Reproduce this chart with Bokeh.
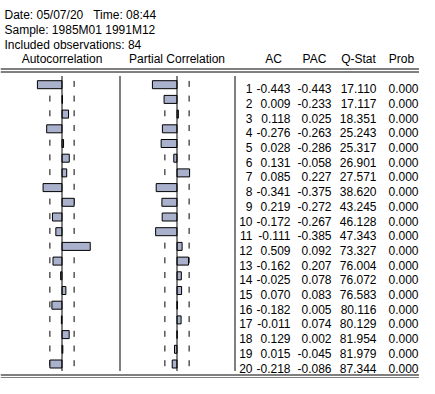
from bokeh.plotting import figure
from bokeh.models import Range1d, ColumnDataSource
from bokeh.core.properties import value
from bokeh.embed import file_html
from bokeh.resources import INLINE

# ---- data ----
lags = list(range(1, 21))
ac = [-0.443, 0.009, 0.118, -0.276, 0.028, 0.131, 0.085, -0.341, 0.219, -0.172,
      -0.111, 0.509, -0.162, -0.025, 0.070, -0.182, -0.011, 0.129, 0.015, -0.218]
pac = [-0.443, -0.233, 0.025, -0.263, -0.286, -0.058, 0.227, -0.375, -0.272, -0.267,
       -0.385, 0.092, 0.207, 0.078, 0.083, 0.005, 0.074, 0.002, -0.045, -0.086]
qstat = [17.110, 17.117, 18.351, 25.243, 25.317, 26.901, 27.571, 38.620, 43.245, 46.128,
         47.343, 73.327, 76.004, 76.072, 76.583, 80.116, 80.129, 81.954, 81.979, 87.344]
prob = [0.000] * 20
n_obs = 84
band = 2 / n_obs ** 0.5

NB = "\u00a0"
header_lines = ["Date: 05/07/20" + NB * 3 + "Time: 08:44",
                "Sample: 1985M01 1991M12",
                "Included observations: 84"]
col_titles = ["AC", "PAC", "Q-Stat", "Prob"]

# ---- layout: data space = picture pixels ----
W, H = 419, 378
FS = "12px"
FONT = value("Liberation Sans")
PX_PER_UNIT = 55.5
AC_ZERO, PAC_ZERO = 61.5, 176.5
ROW0, ROW_H = 84.2, 14.7
BAR_PX = 8.0

p = figure(width=W, height=H, x_range=Range1d(0, W), y_range=Range1d(H, 0),
           output_backend="svg", toolbar_location=None,
           x_axis_type=None, y_axis_type=None, min_border=0)
p.outline_line_color = None
p.background_fill_color = "white"
p.border_fill_color = "white"

p.extra_x_ranges = {
    "ac": Range1d(-AC_ZERO / PX_PER_UNIT, (W - AC_ZERO) / PX_PER_UNIT),
    "pac": Range1d(-PAC_ZERO / PX_PER_UNIT, (W - PAC_ZERO) / PX_PER_UNIT),
}
p.extra_y_ranges = {
    "lag": Range1d(1 + (H - ROW0) / ROW_H, 1 - ROW0 / ROW_H),
}

src = ColumnDataSource(dict(
    lag=lags, ac=ac, pac=pac,
    dy0=[l - 3.8 / ROW_H for l in lags], dy1=[l + 2.2 / ROW_H for l in lags],
    lag_s=[str(l) for l in lags],
    ac_s=["%.3f" % v for v in ac], pac_s=["%.3f" % v for v in pac],
    q_s=["%.3f" % v for v in qstat], p_s=["%.3f" % v for v in prob],
))

# confidence band dashes
for rng in ("ac", "pac"):
    for b in (-band, band):
        p.segment(x0=b, x1=b, y0="dy0", y1="dy1", source=src, x_range_name=rng,
                  y_range_name="lag", line_color="black", line_width=1)

bar_fill = "#aab1cd"
for rng, col in (("ac", "ac"), ("pac", "pac")):
    p.hbar(y="lag", left=0, right=col, height=BAR_PX / ROW_H, source=src,
           x_range_name=rng, y_range_name="lag", fill_color=bar_fill,
           line_color="black", line_width=1)

# zero lines
LINE_TOP, LINE_BOT = 75.5, 370.5
top_lag, bot_lag = 1 + (LINE_TOP - ROW0) / ROW_H, 1 + (LINE_BOT - ROW0) / ROW_H
for rng in ("ac", "pac"):
    p.segment(x0=[0], x1=[0], y0=[top_lag], y1=[bot_lag], x_range_name=rng,
              y_range_name="lag", line_color="black", line_width=1)

# panel separators
p.segment(x0=[119.5, 234.5], x1=[119.5, 234.5], y0=[LINE_TOP] * 2, y1=[LINE_BOT] * 2,
          line_color="black", line_width=1)

# double rules
p.segment(x0=[0, 0, 0, 0], x1=[W, W, W, W], y0=[68.5, 71.5, 374.5, 377.5],
          y1=[68.5, 71.5, 374.5, 377.5], line_color="black", line_width=1)

# header text
p.text(x=[4, 4, 4], y=[14.5, 29, 44], text=header_lines, text_font=FONT,
       text_font_size=FS, text_baseline="alphabetic", text_align="left",
       text_color="black")
p.text(x=[AC_ZERO, PAC_ZERO], y=[58.5, 58.5], text=["Autocorrelation", "Partial Correlation"],
       text_font=FONT, text_font_size=FS, text_baseline="alphabetic",
       text_align="center", text_color="black")
p.text(x=[273, 314, 358, 401], y=[58.5] * 4, text=col_titles, text_font=FONT,
       text_font_size=FS, text_baseline="alphabetic", text_align="center",
       text_color="black")

# table columns
cols = [("lag_s", 252), ("ac_s", 290), ("pac_s", 331), ("q_s", 376), ("p_s", 418)]
for field, xr in cols:
    p.text(x=xr, y="lag", text=field, source=src, y_range_name="lag",
           text_font=FONT, text_font_size=FS, text_baseline="alphabetic",
           text_align="right", y_offset=4, text_color="black")

open("out.html", "w").write(file_html(p, INLINE))
